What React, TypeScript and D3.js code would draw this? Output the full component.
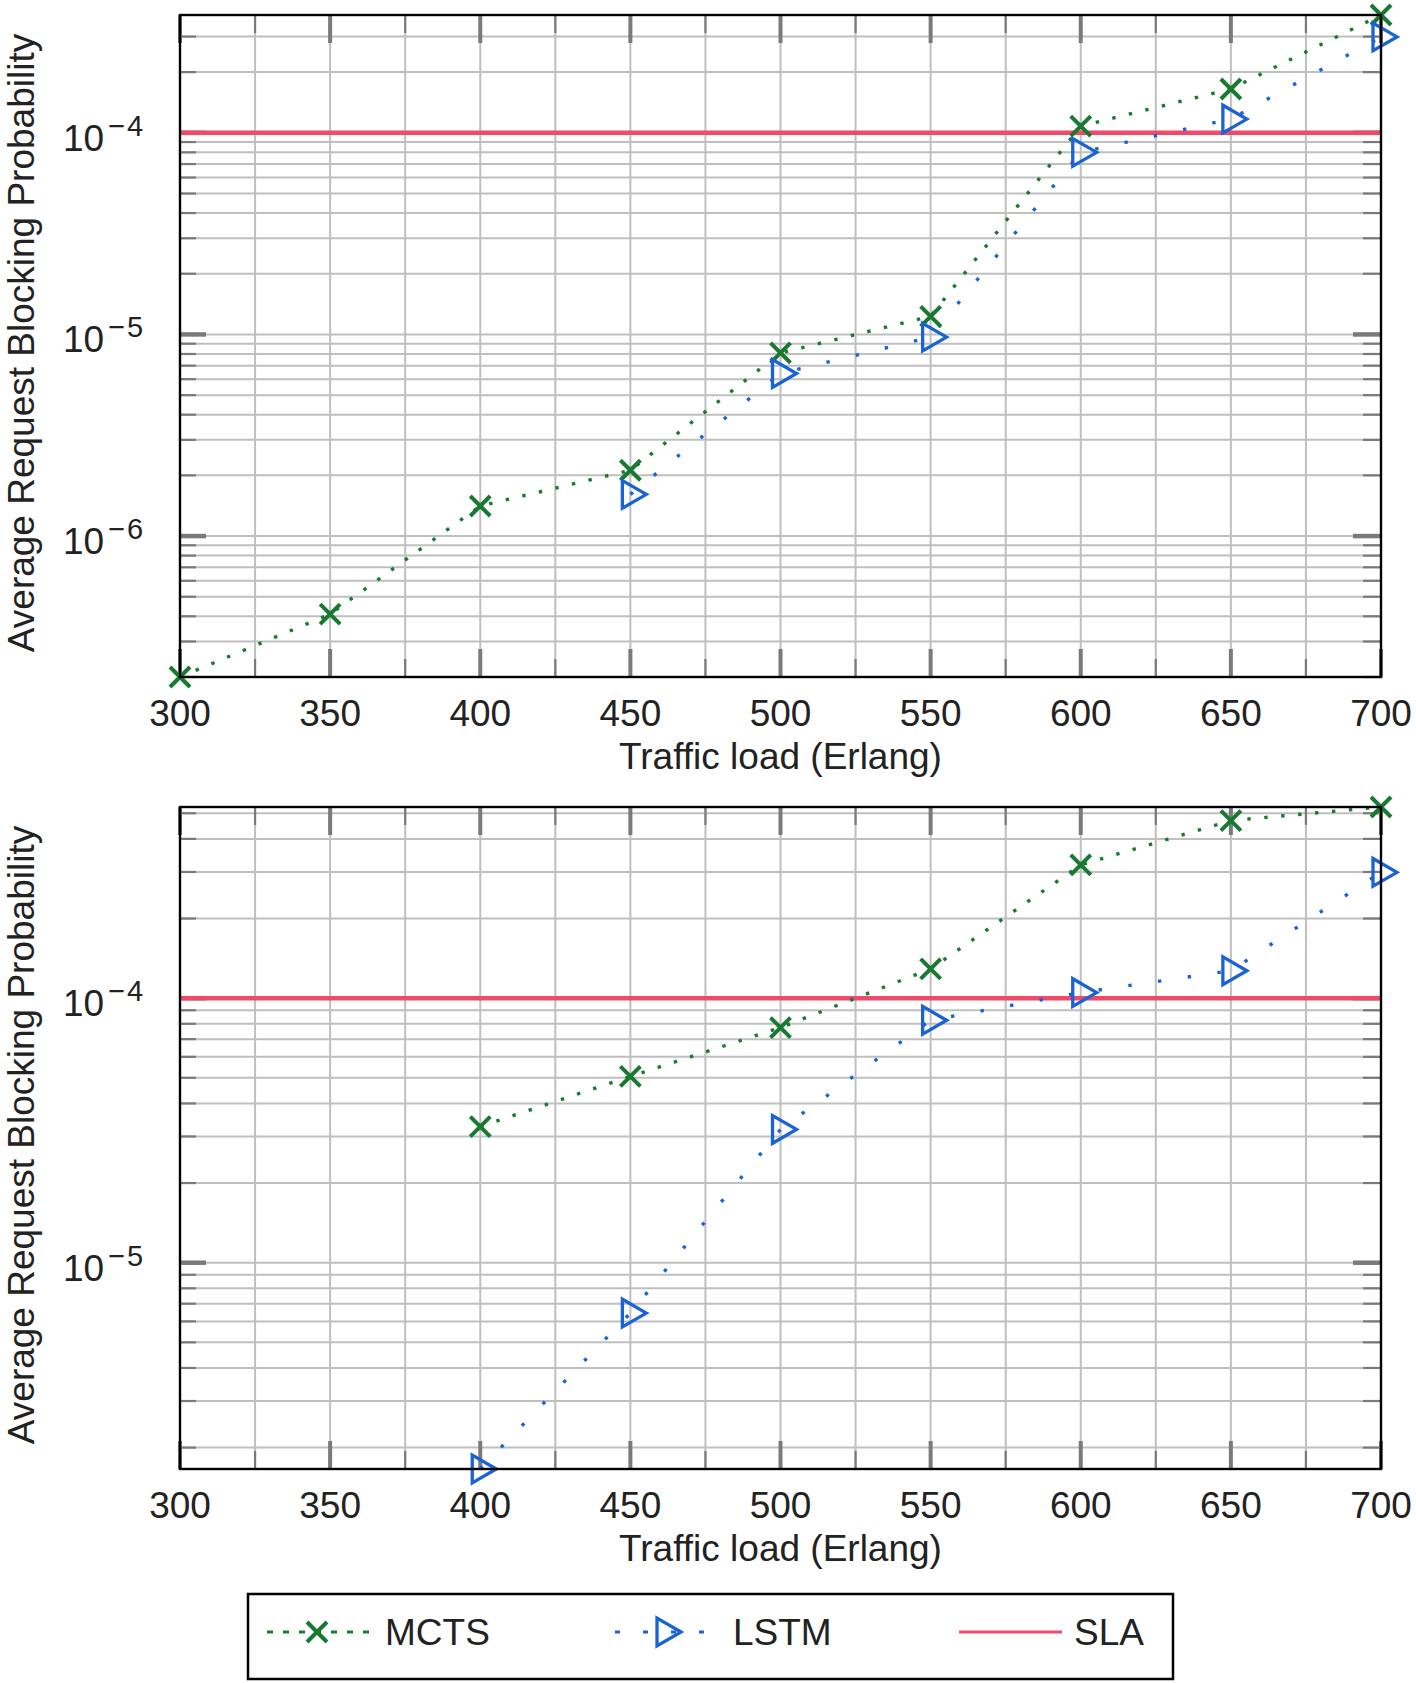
import React from "react";
import * as d3 from "d3";

// ---------- data ----------
const xTickValues = [300, 350, 400, 450, 500, 550, 600, 650, 700];
const xMinorTickValues = [300, 325, 350, 375, 400, 425, 450, 475, 500, 525, 550, 575, 600, 625, 650, 675, 700];
const xDomain = [300, 700];
const slaValue = 1e-4;

// Panel 1 (top)
const topMctsLoads = [300, 350, 400, 450, 500, 550, 600, 650, 700];
const topMctsValues = [2.0e-7, 4.1e-7, 1.41e-6, 2.12e-6, 8.1e-6, 1.23e-5, 1.08e-4, 1.65e-4, 3.84e-4];
const topLstmLoads = [450, 500, 550, 600, 650, 700];
const topLstmValues = [1.61e-6, 6.4e-6, 9.7e-6, 8.0e-5, 1.17e-4, 2.99e-4];

// Panel 2 (bottom)
const botMctsLoads = [400, 450, 500, 550, 600, 650, 700];
const botMctsValues = [3.27e-5, 5.06e-5, 7.74e-5, 1.29e-4, 3.19e-4, 4.69e-4, 5.28e-4];
const botLstmLoads = [400, 450, 500, 550, 600, 650, 700];
const botLstmValues = [1.66e-6, 6.45e-6, 3.19e-5, 8.25e-5, 1.05e-4, 1.27e-4, 2.99e-4];

const seriesNames = ["MCTS", "LSTM", "SLA"];
const xAxisTitle = "Traffic load (Erlang)";
const yAxisTitle = "Average Request Blocking Probability";

// ---------- style ----------
const FONT = "'Liberation Sans', Arial, Helvetica, sans-serif";
const GREEN = "#187a30";
const BLUE = "#1a63d6";
const RED = "#ee4a6a";
const GRID = "#bfbfbf";
const TICK = "#7a7a7a";

const W = 1416;
const H = 1683;
const PLOT_LEFT = 180;
const PLOT_RIGHT = 1381;

function CrossMark({ x, y }: { x: number; y: number }) {
  const s = 10;
  return (
    <path
      d={`M${x - s},${y - s}L${x + s},${y + s}M${x - s},${y + s}L${x + s},${y - s}`}
      stroke={GREEN}
      strokeWidth={4}
      fill="none"
    />
  );
}

function TriMark({ x, y }: { x: number; y: number }) {
  const r = 16;
  const h = r * 0.866;
  return (
    <path
      d={`M${x + r},${y}L${x - r / 2},${y - h}L${x - r / 2},${y + h}Z`}
      stroke={BLUE}
      strokeWidth={3.3}
      fill="none"
      strokeLinejoin="miter"
    />
  );
}

type PanelProps = {
  top: number;
  bottom: number;
  mctsLoads: number[];
  mctsValues: number[];
  lstmLoads: number[];
  lstmValues: number[];
};

function Panel({ top, bottom, mctsLoads, mctsValues, lstmLoads, lstmValues }: PanelProps) {
  const all = [...mctsValues, ...lstmValues];
  const ext = d3.extent(all) as [number, number];
  const x = d3.scaleLinear().domain(xDomain).range([PLOT_LEFT, PLOT_RIGHT]);
  const y = d3.scaleLog().domain(ext).range([bottom, top]);

  const yTicksAll = y.ticks().filter((v) => v >= ext[0] * 0.999 && v <= ext[1] * 1.001);
  const isMajor = (v: number) => {
    const m = v / Math.pow(10, Math.floor(Math.log10(v) + 1e-9));
    return Math.abs(m - 1) < 1e-6;
  };
  const yMajor = yTicksAll.filter(isMajor);
  const yMinor = yTicksAll.filter((v) => !isMajor(v));

  const line = d3
    .line<[number, number]>()
    .x((d) => x(d[0]))
    .y((d) => y(d[1]));

  const mctsPts: [number, number][] = mctsLoads.map((l, i) => [l, mctsValues[i]]);
  const lstmPts: [number, number][] = lstmLoads.map((l, i) => [l, lstmValues[i]]);
  const centerY = (top + bottom) / 2;
  const centerX = (PLOT_LEFT + PLOT_RIGHT) / 2;

  return (
    <g>
      {/* grid */}
      {xMinorTickValues.map((v) => (
        <line key={"gx" + v} x1={x(v)} x2={x(v)} y1={top} y2={bottom} stroke={GRID} strokeWidth={2} />
      ))}
      {yTicksAll.map((v) => (
        <line key={"gy" + v} x1={PLOT_LEFT} x2={PLOT_RIGHT} y1={y(v)} y2={y(v)} stroke={GRID} strokeWidth={2} />
      ))}
      {/* ticks x */}
      {xMinorTickValues.map((v) => {
        const major = xTickValues.includes(v);
        const len = major ? 28 : 18;
        const w = major ? 4 : 2.2;
        return (
          <g key={"tx" + v}>
            <line x1={x(v)} x2={x(v)} y1={bottom} y2={bottom - len} stroke={TICK} strokeWidth={w} />
            <line x1={x(v)} x2={x(v)} y1={top} y2={top + len} stroke={TICK} strokeWidth={w} />
          </g>
        );
      })}
      {/* ticks y */}
      {yMinor.map((v) => (
        <g key={"ty" + v}>
          <line x1={PLOT_LEFT} x2={PLOT_LEFT + 16} y1={y(v)} y2={y(v)} stroke={TICK} strokeWidth={2.2} />
          <line x1={PLOT_RIGHT} x2={PLOT_RIGHT - 18} y1={y(v)} y2={y(v)} stroke={TICK} strokeWidth={2.2} />
        </g>
      ))}
      {yMajor.map((v) => (
        <g key={"tY" + v}>
          <line x1={PLOT_LEFT} x2={PLOT_LEFT + 26} y1={y(v)} y2={y(v)} stroke={TICK} strokeWidth={4.5} />
          <line x1={PLOT_RIGHT} x2={PLOT_RIGHT - 28} y1={y(v)} y2={y(v)} stroke={TICK} strokeWidth={4.5} />
        </g>
      ))}
      {/* SLA */}
      <line x1={PLOT_LEFT} x2={PLOT_RIGHT} y1={y(slaValue)} y2={y(slaValue)} stroke={RED} strokeWidth={4.5} />
      {/* series */}
      <path d={line(mctsPts) || ""} fill="none" stroke={GREEN} strokeWidth={3.4} strokeDasharray="3.4 13.6" />
      <path d={line(lstmPts) || ""} fill="none" stroke={BLUE} strokeWidth={3.4} strokeDasharray="3.4 26.6" />
      {mctsPts.map((p, i) => (
        <CrossMark key={"m" + i} x={x(p[0])} y={y(p[1])} />
      ))}
      {lstmPts.map((p, i) => (
        <TriMark key={"l" + i} x={x(p[0])} y={y(p[1])} />
      ))}
      {/* frame */}
      <rect x={PLOT_LEFT} y={top} width={PLOT_RIGHT - PLOT_LEFT} height={bottom - top} fill="none" stroke="#000" strokeWidth={2.4} />
      {/* x tick labels */}
      {xTickValues.map((v) => (
        <text key={"lx" + v} x={x(v)} y={bottom + 49} textAnchor="middle" fontSize={37} fontFamily={FONT} fill="#222">
          {v}
        </text>
      ))}
      {/* y tick labels */}
      {yMajor.map((v) => {
        const exp = Math.round(Math.log10(v));
        return (
          <text key={"ly" + v} x={63} y={y(v) + 18} fontSize={37} fontFamily={FONT} fill="#222">
            <tspan>10</tspan>
            <tspan dx={4} dy={-15} fontSize={29} letterSpacing={2}>
              {"\u2212" + Math.abs(exp)}
            </tspan>
          </text>
        );
      })}
      {/* axis titles */}
      <text x={centerX} y={bottom + 92} textAnchor="middle" fontSize={37} fontFamily={FONT} fill="#222">
        {xAxisTitle}
      </text>
      <text
        transform={`translate(34,${centerY - 3}) rotate(-90)`}
        textAnchor="middle"
        fontSize={37}
        fontFamily={FONT}
        fill="#222"
      >
        {yAxisTitle}
      </text>
    </g>
  );
}

function Legend() {
  const cy = 1632;
  return (
    <g>
      <rect x={248} y={1594} width={925} height={85} fill="#fff" stroke="#000" strokeWidth={2.5} />
      <line x1={267} x2={372} y1={cy} y2={cy} stroke={GREEN} strokeWidth={3} strokeDasharray="6 10" />
      <CrossMark x={317} y={cy} />
      <text x={385} y={cy + 13} fontSize={37} fontFamily={FONT} fill="#222">
        {seriesNames[0]}
      </text>
      <line x1={615} x2={710} y1={cy} y2={cy} stroke={BLUE} strokeWidth={3} strokeDasharray="5 23" />
      <TriMark x={665} y={cy} />
      <text x={733} y={cy + 13} fontSize={37} fontFamily={FONT} fill="#222">
        {seriesNames[1]}
      </text>
      <line x1={959} x2={1062} y1={cy} y2={cy} stroke={RED} strokeWidth={3} />
      <text x={1074} y={cy + 13} fontSize={37} fontFamily={FONT} fill="#222">
        {seriesNames[2]}
      </text>
    </g>
  );
}

export default function App() {
  return (
    <div style={{ position: "absolute", left: 0, top: 0 }}>
      <svg width={W} height={H} viewBox={`0 0 ${W} ${H}`} style={{ display: "block", background: "#fff" }}>
        <Panel
          top={15}
          bottom={677}
          mctsLoads={topMctsLoads}
          mctsValues={topMctsValues}
          lstmLoads={topLstmLoads}
          lstmValues={topLstmValues}
        />
        <Panel
          top={807}
          bottom={1469}
          mctsLoads={botMctsLoads}
          mctsValues={botMctsValues}
          lstmLoads={botLstmLoads}
          lstmValues={botLstmValues}
        />
        <Legend />
      </svg>
    </div>
  );
}
